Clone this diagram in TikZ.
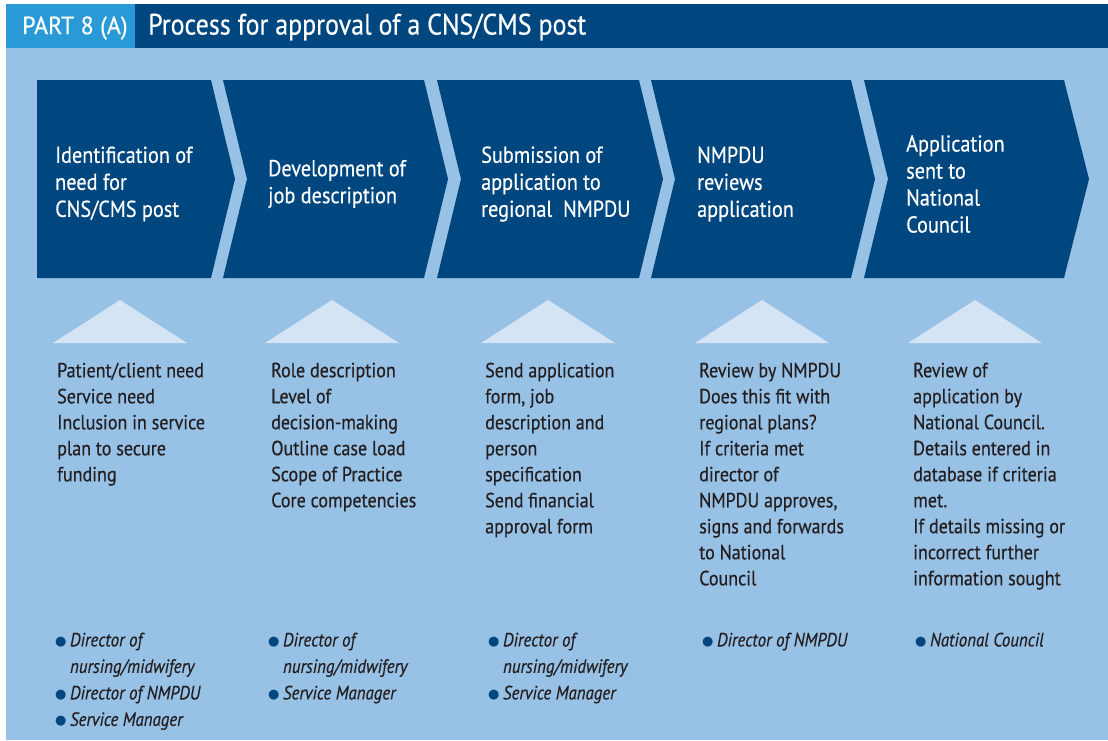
\documentclass[tikz,border=0pt]{standalone}
\usepackage{fontspec}
\setmainfont{PT Sans}[FakeStretch=0.88, FakeBold=0.4]
\newfontfamily\partfont{PT Sans}[FakeStretch=0.96, FakeBold=0.4]
\newfontfamily\symfont{DejaVu Sans}
\definecolor{navy}{RGB}{0,70,127}
\definecolor{bgblue}{RGB}{152,193,230}
\definecolor{partblue}{RGB}{42,154,215}
\definecolor{tri}{RGB}{212,228,244}
\definecolor{ink}{RGB}{35,31,32}
\newcommand{\bul}{\raisebox{1pt}{\color{navy}\symfont\fontsize{13}{0}\selectfont ●}\hspace{3.5pt}}
\newcommand{\nobul}{\hphantom{{\symfont\fontsize{13}{0}\selectfont ●}\hspace{3.5pt}}}
\tikzset{
  chev/.style={fill=navy},
  tritop/.style={fill=tri},
  headtext/.style={text=white, anchor=west, inner sep=0pt, align=left, font=\fontsize{23}{27}\selectfont},
  bodytext/.style={text=ink, anchor=north west, inner sep=0pt, align=left, font=\fontsize{20.5}{26}\selectfont},
  bullettext/.style={text=ink, anchor=north west, inner sep=0pt, align=left, font=\fontsize{19.2}{26.5}\selectfont\itshape},
}
\begin{document}
\begin{tikzpicture}[x=1pt,y=-1pt]
\useasboundingbox (0,0) rectangle (1108,740);
\fill[white] (0,0) rectangle (1108,740);
\fill[bgblue] (6,4) rectangle (1108,740);
\fill[navy] (6,4) rectangle (1108,48);
\fill[partblue] (6,4) rectangle (135,48);
\node[text=white, anchor=west, inner sep=0pt, font=\partfont\fontsize{25}{28}\selectfont] (part) at (22,28) {PART 8 (A)};
\node[text=white, anchor=west, inner sep=0pt, font=\fontsize{29.5}{32}\selectfont] (title) at (148,27) {Process for approval of a CNS/CMS post};

% chevrons
\fill[chev] (37,80) -- (211,80) -- (235,179) -- (211,278) -- (37,278) -- cycle;
\fill[chev] (223,80) -- (424,80) -- (448,179) -- (424,278) -- (223,278) -- (247,179) -- cycle;
\fill[chev] (437,80) -- (639,80) -- (663,179) -- (639,278) -- (437,278) -- (461,179) -- cycle;
\fill[chev] (651,80) -- (851,80) -- (875,179) -- (851,278) -- (651,278) -- (675,179) -- cycle;
\fill[chev] (864,80) -- (1064,80) -- (1089,179) -- (1064,278) -- (864,278) -- (888,179) -- cycle;

\node[headtext] (h1) at (55,184) {Identification of\\need for\\CNS/CMS post};
\node[headtext] (h2) at (268,184) {Development of\\job description};
\node[headtext] (h3) at (481,184) {Submission of\\application to\\regional\ \ NMPDU};
\node[headtext] (h4) at (697,184) {NMPDU\\reviews\\application};
\node[headtext] (h5) at (906,184) {Application\\sent to\\National\\Council};

% triangles
\foreach \c in {120,332,548,762,975}{
  \fill[tritop] (\c-67,343) -- (\c,300) -- (\c+67,343) -- cycle;
}

\node[bodytext] (b1) at (57,362.5) {Patient/client need\\Service need\\Inclusion in service\\plan to secure\\funding};
\node[bodytext] (b2) at (271,362.5) {Role description\\Level of\\decision-making\\Outline case load\\Scope of Practice\\Core competencies};
\node[bodytext] (b3) at (485,362.5) {Send application\\form, job\\description and\\person\\specification\\Send financial\\approval form};
\node[bodytext] (b4) at (699,362.5) {Review by NMPDU\\Does this fit with\\regional plans?\\If criteria met\\director of\\NMPDU approves,\\signs and forwards\\to National\\Council};
\node[bodytext] (b5) at (913,362.5) {Review of\\application by\\National Council.\\Details entered in\\database if criteria\\met.\\If details missing or\\incorrect further\\information sought};

\node[bullettext] (r1) at (55,632.5) {\bul Director of\\\nobul nursing/midwifery\\\bul Director of NMPDU\\\bul Service Manager};
\node[bullettext] (r2) at (268,632.5) {\bul Director of\\\nobul nursing/midwifery\\\bul Service Manager};
\node[bullettext] (r3) at (488,632.5) {\bul Director of\\\nobul nursing/midwifery\\\bul Service Manager};
\node[bullettext] (r4) at (702,632.5) {\bul Director of NMPDU};
\node[bullettext] (r5) at (915,632.5) {\bul National Council};
\end{tikzpicture}
\end{document}
